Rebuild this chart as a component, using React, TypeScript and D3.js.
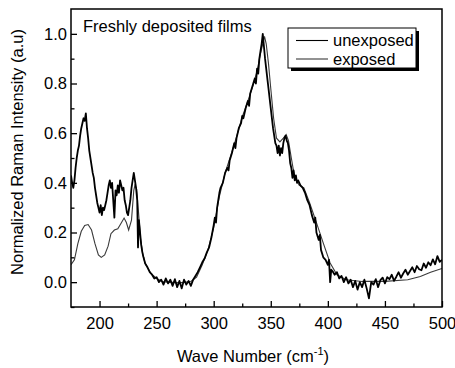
import React, { useRef, useEffect } from 'react';
import * as d3 from 'd3';

// unexposed film (noisy trace)
const unexposedWave = [
  175, 176, 177, 178, 179, 180, 181, 182, 183, 184, 185, 186, 187, 188, 189, 190, 191, 192, 193, 194,
  195, 196, 197, 198, 199, 200, 201, 202, 203, 204, 205, 206, 207, 208, 209, 210, 211, 212, 213, 214,
  215, 216, 217, 218, 219, 220, 221, 222, 223, 224, 225, 226, 227, 228, 229, 230, 231, 232, 233, 233.7,
  234.5, 235.5, 236.5, 237.5, 238.5, 240, 242, 244, 246, 248, 250, 252, 254, 256, 258, 260, 262, 264, 266, 268,
  270, 272, 274, 276, 278, 280, 282, 284, 286, 288, 290, 292, 294, 296, 298, 300, 301, 302, 303, 304,
  305, 306, 308, 309, 310, 312, 313, 314, 316, 318, 319, 320, 322, 324, 325, 326, 328, 330, 331, 332,
  334, 336, 337, 338, 339, 340, 341, 342, 343, 344, 345, 346, 347, 348, 350, 352, 354, 355, 356, 357,
  358, 359, 360, 361, 362, 363, 364, 365, 366, 367, 368, 369, 370, 371, 372, 373, 374, 376, 378, 380,
  382, 384, 386, 388, 389, 390, 392, 393, 394, 396, 398, 400, 401, 402, 403, 404, 406, 408, 410, 412,
  414, 416, 418, 420, 422, 424, 426, 428, 430, 432, 434, 436, 438, 440, 442, 444, 446, 448, 450, 452,
  454, 456, 458, 460, 462, 464, 466, 468, 470, 472, 474, 476, 478, 480, 482, 484, 486, 488, 490, 492,
  494, 496, 498, 500,
];
const unexposedIntensity = [
  0.43, 0.40, 0.38, 0.41, 0.46, 0.50, 0.53, 0.55, 0.59, 0.62, 0.64, 0.66, 0.65, 0.68, 0.62, 0.58, 0.53, 0.50, 0.47, 0.44,
  0.42, 0.38, 0.35, 0.32, 0.30, 0.28, 0.31, 0.27, 0.30, 0.29, 0.31, 0.33, 0.36, 0.39, 0.41, 0.38, 0.40, 0.33, 0.26, 0.37,
  0.35, 0.39, 0.36, 0.41, 0.39, 0.37, 0.38, 0.33, 0.31, 0.28, 0.27, 0.30, 0.33, 0.38, 0.41, 0.44, 0.41, 0.38, 0.33, 0.14,
  0.25, 0.20, 0.15, 0.12, 0.10, 0.075, 0.06, 0.04, 0.03, 0.015, 0.02, 0.0, 0.01, -0.01, 0.015, -0.005, 0.01, -0.015, 0.012, -0.02,
  0.005, -0.025, 0.01, -0.01, 0.005, -0.015, 0.01, 0.025, 0.04, 0.06, 0.08, 0.095, 0.12, 0.14, 0.18, 0.23, 0.26, 0.24, 0.30, 0.33,
  0.36, 0.38, 0.40, 0.42, 0.44, 0.46, 0.45, 0.49, 0.52, 0.56, 0.54, 0.58, 0.62, 0.64, 0.67, 0.66, 0.70, 0.73, 0.71, 0.76,
  0.79, 0.82, 0.80, 0.86, 0.84, 0.90, 0.93, 0.96, 1.0, 0.95, 0.90, 0.86, 0.82, 0.78, 0.70, 0.62, 0.56, 0.55, 0.52, 0.55,
  0.51, 0.54, 0.52, 0.56, 0.58, 0.59, 0.57, 0.56, 0.53, 0.48, 0.46, 0.42, 0.45, 0.41, 0.43, 0.40, 0.41, 0.39, 0.38, 0.36,
  0.33, 0.31, 0.27, 0.24, 0.26, 0.20, 0.17, 0.19, 0.13, 0.10, 0.09, 0.07, 0.09, 0.0, 0.05, 0.045, 0.03, 0.04, 0.015, 0.025,
  0.0, 0.02, -0.005, 0.01, -0.02, 0.005, -0.03, 0.0, -0.02, 0.01, -0.025, -0.065, 0.0, -0.01, 0.012, -0.02, 0.008, 0.018, -0.005, 0.02,
  0.012, 0.03, 0.005, 0.022, 0.04, 0.018, 0.035, 0.05, 0.03, 0.045, 0.06, 0.04, 0.065, 0.052, 0.048, 0.075, 0.058, 0.08, 0.068, 0.092,
  0.072, 0.105, 0.082, 0.09,
];

// exposed film (smooth trace)
const exposedWave = [
  175, 178, 181, 184, 187, 190, 193, 196, 199, 201.5, 204.5, 207.5, 210, 213, 216, 219, 221.5, 223.5, 225.5, 228,
  230, 231, 232.5, 234, 236, 238, 240, 245, 250, 255, 260, 270, 280, 285, 290, 295, 300, 305, 310, 315,
  320, 325, 330, 335, 338, 341, 343, 344.5, 346, 348, 350, 352.5, 355, 358, 361, 363.5, 365.5, 368, 371, 375,
  379, 384, 390, 396, 402, 408, 416, 430, 450, 470, 481, 490, 500,
];
const exposedIntensity = [
  0.07, 0.09, 0.155, 0.205, 0.228, 0.232, 0.21, 0.155, 0.11, 0.10, 0.11, 0.145, 0.195, 0.21, 0.215, 0.238, 0.258, 0.24, 0.21, 0.25,
  0.37, 0.39, 0.375, 0.29, 0.17, 0.11, 0.075, 0.035, 0.015, 0.003, 0.0, -0.003, 0.003, 0.02, 0.07, 0.13, 0.22, 0.345, 0.44, 0.51,
  0.585, 0.665, 0.73, 0.8, 0.85, 0.92, 0.96, 0.99, 0.96, 0.88, 0.78, 0.66, 0.58, 0.565, 0.58, 0.594, 0.57, 0.5, 0.42, 0.39,
  0.38, 0.32, 0.24, 0.157, 0.077, 0.03, 0.01, 0.003, 0.003, 0.01, 0.023, 0.04, 0.055,
];

const xMajorTicks = [200, 250, 300, 350, 400, 450, 500];
const xMinorTicks = [225, 275, 325, 375, 425, 475];
const yMajorTicks = [0.0, 0.2, 0.4, 0.6, 0.8, 1.0];
const yMinorTicks = [-0.1, 0.1, 0.3, 0.5, 0.7, 0.9];
const seriesNames = ['unexposed', 'exposed'];

const W = 455;
const H = 368;
const FONT = '"Liberation Sans", Arial, Helvetica, sans-serif';
const FS = '16.5px';

function RamanChart() {
  const svgRef = useRef<SVGSVGElement>(null);

  useEffect(() => {
    const svg = d3.select(svgRef.current);
    svg.selectAll('*').remove();

    const left = 71, right = 442, top = 9, bottom = 307;
    const x = d3.scaleLinear().domain([175, 500]).range([left, right]);
    const y = d3.scaleLinear().domain([-0.1, 1.1]).range([bottom, top]);

    const plot = svg.append('g');
    plot.append('defs').append('clipPath').attr('id', 'plotclip')
      .append('rect').attr('x', left).attr('y', top).attr('width', right - left).attr('height', bottom - top);

    const line = d3.line<[number, number]>().x((d) => x(d[0])).y((d) => y(d[1]));

    const exposed = exposedWave.map((w, i) => [w, exposedIntensity[i]] as [number, number]);
    const unexposed = unexposedWave.map((w, i) => [w, unexposedIntensity[i]] as [number, number]);

    plot.append('path').attr('d', line(exposed)).attr('fill', 'none')
      .attr('stroke', '#3a3a3a').attr('stroke-width', 1.1).attr('clip-path', 'url(#plotclip)');
    plot.append('path').attr('d', line(unexposed)).attr('fill', 'none')
      .attr('stroke', '#000').attr('stroke-width', 1.8).attr('stroke-linejoin', 'round')
      .attr('clip-path', 'url(#plotclip)');

    // axes, ticks pointing inward
    const styleAxis = (g: d3.Selection<SVGGElement, unknown, null, undefined>) => {
      g.select('.domain').remove();
      g.selectAll('line').attr('stroke', '#000').attr('stroke-width', 1.3);
      g.selectAll('text').attr('fill', '#000').style('font-family', FONT).style('font-size', FS);
    };

    svg.append('g').attr('transform', `translate(0,${bottom})`)
      .call(d3.axisBottom(x).tickValues(xMajorTicks).tickSize(-6).tickPadding(10).tickFormat(d3.format('d')))
      .call(styleAxis);
    svg.append('g').attr('transform', `translate(0,${bottom})`)
      .call(d3.axisBottom(x).tickValues(xMinorTicks).tickSize(-3.5).tickFormat(() => ''))
      .call(styleAxis);
    svg.append('g').attr('transform', `translate(${left},0)`)
      .call(d3.axisLeft(y).tickValues(yMajorTicks).tickSize(-6).tickPadding(4).tickFormat(d3.format('.1f')))
      .call(styleAxis);
    svg.append('g').attr('transform', `translate(${left},0)`)
      .call(d3.axisLeft(y).tickValues(yMinorTicks).tickSize(-3.5).tickFormat(() => ''))
      .call(styleAxis);

    svg.append('rect').attr('x', left).attr('y', top).attr('width', right - left).attr('height', bottom - top)
      .attr('fill', 'none').attr('stroke', '#000').attr('stroke-width', 1.5);

    // annotation
    svg.append('text').attr('x', 83).attr('y', 32).text('Freshly deposited films')
      .style('font-family', FONT).style('font-size', FS);

    // legend with drop shadow
    const lg = svg.append('g');
    lg.append('rect').attr('x', 291).attr('y', 31).attr('width', 128).attr('height', 40).attr('fill', '#000');
    lg.append('rect').attr('x', 288).attr('y', 28).attr('width', 128).attr('height', 40)
      .attr('fill', '#fff').attr('stroke', '#000').attr('stroke-width', 1);
    seriesNames.forEach((name, i) => {
      const ly = 40.5 + i * 18.5;
      lg.append('line').attr('x1', 296).attr('x2', 328).attr('y1', ly).attr('y2', ly)
        .attr('stroke', i === 0 ? '#000' : '#3a3a3a').attr('stroke-width', 1.1);
      lg.append('text').attr('x', 333).attr('y', ly + 5.5).text(name)
        .style('font-family', FONT).style('font-size', FS);
    });

    // axis titles
    svg.append('text').attr('transform', `translate(23,152) rotate(-90)`).attr('text-anchor', 'middle')
      .text('Normalized Raman Intensity (a.u)').style('font-family', FONT).style('font-size', FS);

    const xt = svg.append('text').attr('x', 253).attr('y', 362).attr('text-anchor', 'middle')
      .style('font-family', FONT).style('font-size', FS);
    xt.append('tspan').text('Wave Number (cm');
    xt.append('tspan').attr('dy', -7).style('font-size', '11px').text('-1');
    xt.append('tspan').attr('dy', 7).text(')');
  }, []);

  return <svg ref={svgRef} width={W} height={H} style={{ position: 'absolute', left: 0, top: 0, background: '#fff' }} />;
}

export default function App() {
  return <RamanChart />;
}
